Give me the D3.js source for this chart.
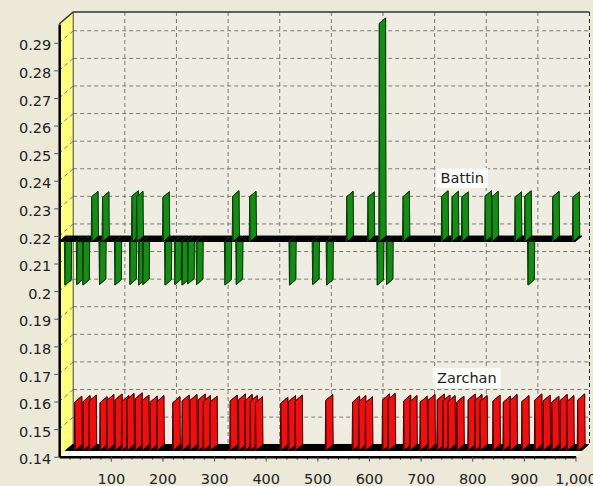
<!DOCTYPE html>
<html lang="en">

<head>
  <meta charset="UTF-8" />
  <title>Battin vs Zarchan</title>
  <style>
    body {
      margin: 0;
      background: #ece9d8;
    }

    text {
      font-family: "DejaVu Sans", sans-serif;
      font-size: 14.5px;
      fill: #222;
    }
  </style>
</head>

<body>
  <div class="chart"></div>
  <script src="https://cdn.jsdelivr.net/npm/d3@7"></script>
  <script>
    // Battin: flat line with short jumps up / down
    var battinBase = 0.218;
    var battinX = [11, 34, 46, 63, 78, 84, 108, 137, 141, 150,
      154, 162, 201, 205, 224, 238, 249, 266, 321, 336,
      343, 369, 446, 491, 518, 557, 598, 616, 620, 634,
      666, 741, 761, 780, 825, 838, 883, 902, 908, 956, 995];
    var battinY = [0.2022, 0.2024, 0.2022, 0.2342, 0.2024, 0.2340, 0.2022, 0.2024, 0.2344, 0.2342,
      0.2022, 0.2024, 0.2340, 0.2022, 0.2024, 0.2022, 0.2026, 0.2024, 0.2022, 0.2344,
      0.2024, 0.2342, 0.2022, 0.2024, 0.2022, 0.2342, 0.2340, 0.2022, 0.2970, 0.2024,
      0.2342, 0.2344, 0.2342, 0.2340, 0.2344, 0.2342, 0.2340, 0.2344, 0.2022, 0.2342, 0.2340];

    // Zarchan: low line with many short jumps up
    var zarchanBase = 0.1403;
    var zarchanX = [18, 34, 46, 67, 80, 96, 109, 119, 135, 148,
      164, 177, 208, 226, 241, 257, 267, 280, 319, 335,
      348, 358, 368, 417, 432, 445, 504, 556, 568, 581,
      614, 625, 655, 667, 687, 702, 720, 731, 741, 758,
      780, 793, 803, 828, 848, 861, 884, 909, 925, 942,
      958, 971, 992];
    var zarchanY = [0.1578, 0.1580, 0.1582, 0.1576, 0.1584, 0.1586, 0.1580, 0.1588, 0.1590, 0.1582,
      0.1578, 0.1580, 0.1576, 0.1582, 0.1584, 0.1586, 0.1580, 0.1578, 0.1582, 0.1586,
      0.1584, 0.1580, 0.1576, 0.1574, 0.1580, 0.1582, 0.1584, 0.1578, 0.1580, 0.1576,
      0.1586, 0.1588, 0.1582, 0.1580, 0.1578, 0.1584, 0.1586, 0.1582, 0.1580, 0.1578,
      0.1586, 0.1584, 0.1580, 0.1582, 0.1578, 0.1584, 0.1580, 0.1586, 0.1582, 0.1578,
      0.1584, 0.1580, 0.1586];

    var xTicks = [100, 200, 300, 400, 500, 600, 700, 800, 900, 1000];
    var yTicks = [0.14, 0.15, 0.16, 0.17, 0.18, 0.19, 0.2, 0.21, 0.22, 0.23,
      0.24, 0.25, 0.26, 0.27, 0.28, 0.29];
    var seriesNames = ["Battin", "Zarchan"];
    var labelX = [731, 724];
    var labelY = [0.2446, 0.1721];

    var w = 593,
      h = 486;
    var dx = 14,
      dy = 12; // 3d depth of the box

    var svg = d3.select(".chart").append("svg")
      .attr("width", w)
      .attr("height", h);

    svg.append("rect")
      .attr("width", w)
      .attr("height", h)
      .attr("fill", "#ece9d8");

    var x = d3.scaleLinear().domain([0, 1000]).range([59.2, 575.5]);
    var y = d3.scaleLinear().domain([0.14, 0.2968]).range([456.7, 24]);

    var x0 = x.range()[0],
      x1 = x.range()[1],
      yBot = y.range()[0],
      yTop = y.range()[1];

    var poly = d3.line();

    // back wall
    svg.append("rect")
      .attr("x", x0 + dx)
      .attr("y", yTop - dy)
      .attr("width", x1 - x0)
      .attr("height", yBot - yTop)
      .attr("fill", "#efede2");

    // floor
    svg.append("path")
      .attr("d", poly([[x0, yBot], [x0 + dx, yBot - dy], [x1 + dx, yBot - dy], [x1, yBot]]) + "Z")
      .attr("fill", "#ffffff");

    // left wall
    svg.append("path")
      .attr("d", poly([[x0, yTop], [x0 + dx, yTop - dy], [x0 + dx, yBot - dy], [x0, yBot]]) + "Z")
      .attr("fill", "#ffff80");

    var grid = svg.append("g")
      .attr("stroke", "#7a7a7a")
      .attr("stroke-dasharray", "4,3")
      .attr("fill", "none");

    grid.selectAll(".hgrid")
      .data(yTicks.slice(1))
      .enter()
      .append("line")
      .attr("x1", x0 + dx)
      .attr("x2", x1 + dx)
      .attr("y1", function(d) { return y(d) - dy; })
      .attr("y2", function(d) { return y(d) - dy; });

    grid.selectAll(".wgrid")
      .data(yTicks.slice(1))
      .enter()
      .append("line")
      .attr("x1", x0)
      .attr("x2", x0 + dx)
      .attr("y1", function(d) { return y(d); })
      .attr("y2", function(d) { return y(d) - dy; });

    grid.selectAll(".vgrid")
      .data(xTicks)
      .enter()
      .append("line")
      .attr("x1", function(d) { return x(d) + dx; })
      .attr("x2", function(d) { return x(d) + dx; })
      .attr("y1", yTop - dy)
      .attr("y2", yBot - dy)
      .attr("stroke", function(d) { return d == 1000 ? "#222" : null; });

    // box edges
    svg.append("path")
      .attr("d", poly([[x0, yTop], [x0 + dx, yTop - dy], [x1 + dx, yTop - dy]]))
      .attr("fill", "none")
      .attr("stroke", "#333")
      .attr("stroke-width", 1.5);

    svg.append("line")
      .attr("x1", x0 + dx).attr("x2", x0 + dx)
      .attr("y1", yTop - dy).attr("y2", yBot - dy)
      .attr("stroke", "#444");

    // series as 3d ribbons
    function buildPoints(base, xs, ys) {
      var pts = [[0, base]];
      xs.forEach(function(d, i) {
        pts.push([d - 1, base]);
        pts.push([d, ys[i]]);
        pts.push([d + 1, base]);
      });
      pts.push([1000, base]);
      return pts;
    }

    function drawRibbon(pts, z0, z1, fill, edge) {
      var segs = [];
      for (var i = 0; i < pts.length - 1; i++) {
        var a = pts[i],
          b = pts[i + 1];
        if (a[0] == b[0] && a[1] == b[1]) continue;
        segs.push([a, b]);
      }
      var ox0 = dx * z0,
        oy0 = dy * z0,
        ox1 = dx * z1,
        oy1 = dy * z1;
      svg.append("g").selectAll("path")
        .data(segs)
        .enter()
        .append("path")
        .attr("d", function(s) {
          var a = s[0],
            b = s[1];
          return poly([
            [x(a[0]) + ox0, y(a[1]) - oy0],
            [x(b[0]) + ox0, y(b[1]) - oy0],
            [x(b[0]) + ox1, y(b[1]) - oy1],
            [x(a[0]) + ox1, y(a[1]) - oy1]
          ]) + "Z";
        })
        .attr("fill", function(s) { return s[0][1] == s[1][1] ? "#000" : fill; })
        .attr("stroke", function(s) { return s[0][1] == s[1][1] ? "#000" : edge; })
        .attr("stroke-width", 1)
        .attr("stroke-linejoin", "round");
    }

    drawRibbon(buildPoints(zarchanBase, zarchanX, zarchanY), 0.45, 0.95, "#ee1010", "#4a0000");
    drawRibbon(buildPoints(battinBase, battinX, battinY), 0, 0.45, "#168c16", "#063806");

    // axes
    var yAxis = d3.axisLeft(y)
      .tickValues(yTicks)
      .tickSize(5)
      .tickSizeOuter(0)
      .tickPadding(3)
      .tickFormat(d3.format(".2~f"));

    var gy = svg.append("g")
      .attr("transform", "translate(" + x0 + ",0)")
      .call(yAxis);
    gy.select(".domain").attr("stroke", "#000").attr("stroke-width", 2.5);
    gy.selectAll(".tick line").attr("stroke", "#555");
    gy.selectAll("text").attr("y", 2.5).style("font-size", "14.5px").style("font-family", "DejaVu Sans, sans-serif").attr("fill", "#222");

    var xMinor = d3.axisBottom(x)
      .tickValues(d3.range(20, 1000, 20))
      .tickSize(3)
      .tickSizeOuter(0)
      .tickFormat("");
    var gxm = svg.append("g")
      .attr("transform", "translate(0," + yBot + ")")
      .call(xMinor);
    gxm.select(".domain").remove();
    gxm.selectAll(".tick line").attr("stroke", "#555");

    var xAxis = d3.axisBottom(x)
      .tickValues(xTicks)
      .tickSize(5)
      .tickSizeOuter(0)
      .tickPadding(12)
      .tickFormat(d3.format(","));
    var gx = svg.append("g")
      .attr("transform", "translate(0," + yBot + ")")
      .call(xAxis);
    gx.select(".domain").attr("stroke", "#000").attr("stroke-width", 2.5);
    gx.selectAll(".tick line").attr("stroke", "#555");
    gx.selectAll("text").style("font-size", "14.5px").style("font-family", "DejaVu Sans, sans-serif").attr("fill", "#222");

    // series labels
    var labels = svg.append("g").selectAll("g")
      .data(seriesNames)
      .enter()
      .append("g")
      .attr("transform", function(d, i) {
        return "translate(" + x(labelX[i]) + "," + y(labelY[i]) + ")";
      });

    labels.append("text")
      .attr("x", 4)
      .attr("y", 15)
      .text(function(d) { return d; })
      .each(function() {
        var bb = this.getBBox();
        d3.select(this.parentNode).insert("rect", "text")
          .attr("x", bb.x - 4)
          .attr("y", 0)
          .attr("width", bb.width + 8)
          .attr("height", 20)
          .attr("fill", "#ffffff")
          .attr("opacity", 0.85);
      });
  </script>
</body>

</html>
